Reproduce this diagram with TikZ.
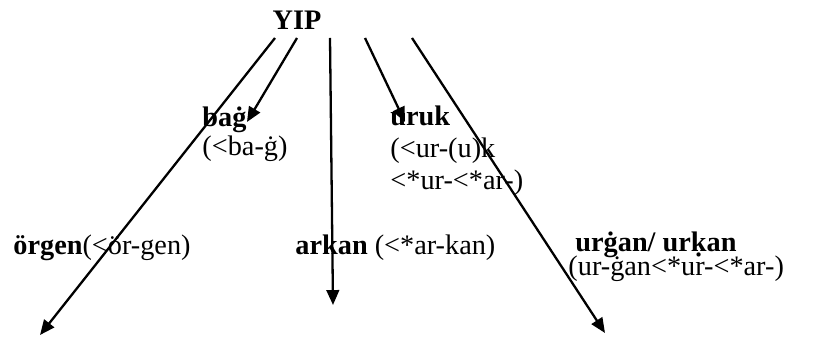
\documentclass[tikz,border=0pt]{standalone}
\usepackage{fontspec}
\setmainfont{Liberation Serif}
\usetikzlibrary{arrows.meta}

\begin{document}
\begin{tikzpicture}[
    x=0.435pt, y=-0.435pt,
    >={Triangle[length=6.5pt,width=5.5pt]},
    wordbox/.style={inner sep=0pt, anchor=base west, font=\fontsize{12.3}{14}\selectfont},
    rootbox/.style={wordbox, anchor=base, font=\fontsize{12.3}{14}\selectfont\bfseries},
    arrow/.style={->, line width=1pt, draw=black}
]
\useasboundingbox (0,0) rectangle (815,339);

% Nodes
\node[rootbox] (yip) at (297,30) {YIP};

\node[wordbox] (bag) at (202,127) {\textbf{baġ}};
\node[wordbox] (bagsrc) at (202,156) {(<ba-ġ)};

\node[wordbox] (uruk) at (390,126) {\textbf{uruk}};
\node[wordbox] (uruksrc) at (390,158) {(<ur-(u)k};
\node[wordbox] (uruksrcb) at (390,190) {<*ur-<*ar-)};

\node[wordbox] (orgen) at (13,255) {\textbf{örgen}(<ör-gen)};
\node[wordbox] (arkan) at (295,255) {\textbf{arkan} (<*ar-kan)};
\node[wordbox] (urgan) at (575,252) {\textbf{urġan/ urḳan}};
\node[wordbox] (urgansrc) at (568,276) {(ur-ġan<*ur-<*ar-)};

% Arrow ends
\coordinate (s1) at (275,38);
\coordinate (s2) at (297,38);
\coordinate (s3) at (330,38);
\coordinate (s4) at (365,38);
\coordinate (s5) at (412,38);
\coordinate (e1) at (40,335);
\coordinate (e2) at (247,122);
\coordinate (e3) at (333,305);
\coordinate (e4) at (405,122);
\coordinate (e5) at (605,333);

% Connections
\draw[arrow] (s1) -- (e1);
\draw[arrow] (s2) -- (e2);
\draw[arrow] (s3) -- (e3);
\draw[arrow] (s4) -- (e4);
\draw[arrow] (s5) -- (e5);

\end{tikzpicture}
\end{document}
